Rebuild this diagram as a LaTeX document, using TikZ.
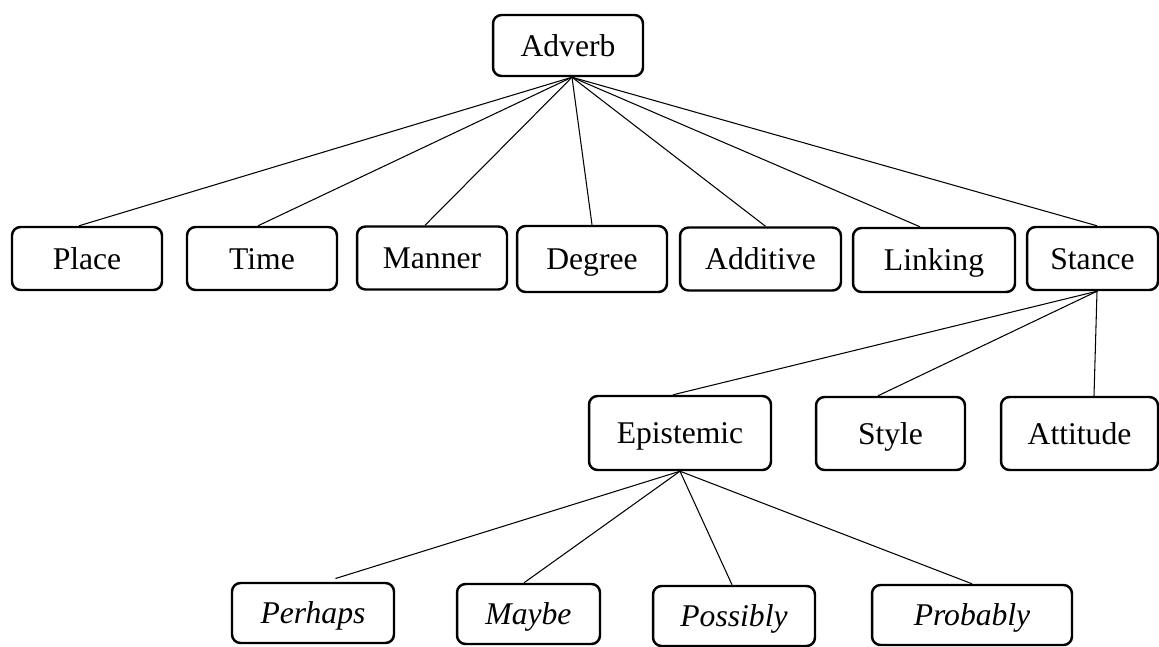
\documentclass[tikz,border=0pt]{standalone}
\usepackage{fontspec}
\setmainfont{Liberation Serif}
\usepackage{tikz}

\tikzset{
	cat/.style={draw, line width=1.4pt, rounded corners=0.17cm, align=center, inner sep=0pt, minimum height=1.26cm, text height=12pt, text depth=0pt, font=\fontsize{18}{20}\selectfont},
	link/.style={line width=0.6pt}
}

\begin{document}
\begin{tikzpicture}[x=0.02cm, y=-0.02cm]
			%%%%% START %%%%%
			\useasboundingbox (0, 0) rectangle (1159, 646);
			
			\node[cat, minimum width=3cm, minimum height=1.22cm] (adverb) at (568, 45.5) {Adverb};
			
			\node[cat, minimum width=3cm] (place) at (87, 258.5) {Place};
			\node[cat, minimum width=3cm] (time) at (262, 258.5) {Time};
			\node[cat, minimum width=3cm] (manner) at (432, 258) {Manner};
			\node[cat, minimum width=3cm, minimum height=1.32cm] (degree) at (592, 259) {Degree};
			\node[cat, minimum width=3.22cm] (additive) at (760.5, 259) {Additive};
			\node[cat, minimum width=3.24cm, minimum height=1.28cm] (linking) at (934, 260) {Linking};
			\node[cat, minimum width=2.62cm] (stance) at (1092.5, 258.5) {Stance};
			
			\node[cat, minimum width=3.64cm, minimum height=1.48cm] (epistemic) at (680, 433) {Epistemic};
			\node[cat, minimum width=2.98cm, minimum height=1.46cm] (style) at (890.5, 433.5) {Style};
			\node[cat, minimum width=3.14cm, minimum height=1.46cm] (attitude) at (1079.5, 433.5) {Attitude};
			
			\node[cat, minimum width=3.24cm, minimum height=1.2cm] (perhaps) at (313, 613) {\itshape Perhaps};
			\node[cat, minimum width=2.86cm, minimum height=1.2cm] (maybe) at (528.5, 614) {\itshape Maybe};
			\node[cat, minimum width=3.24cm, minimum height=1.2cm] (possibly) at (734, 616) {\itshape Possibly};
			\node[cat, minimum width=4cm, minimum height=1.2cm] (probably) at (972, 615) {\itshape Probably};
			
			% first level
			\coordinate (adv-s) at ([xshift=0.08cm]adverb.south);
			\draw[link] (adv-s) -- ([xshift=-0.16cm]place.north);
			\draw[link] (adv-s) -- ([xshift=-0.08cm]time.north);
			\draw[link] (adv-s) -- ([xshift=-0.14cm]manner.north);
			\draw[link] (adv-s) -- (degree.north);
			\draw[link] (adv-s) -- ([xshift=0.1cm]additive.north);
			\draw[link] (adv-s) -- ([xshift=-0.28cm]linking.north);
			\draw[link] (adv-s) -- ([xshift=0.09cm]stance.north);
			
			% stance
			\coordinate (stance-s) at ([xshift=0.09cm]stance.south);
			\draw[link] (stance-s) -- ([xshift=-0.14cm]epistemic.north);
			\draw[link] (stance-s) -- ([xshift=-0.25cm]style.north);
			\draw[link] (stance-s) -- ([xshift=0.29cm]attitude.north);
			
			% epistemic
			\draw[link, shorten >=0.22cm] (epistemic.south) -- ([xshift=0.24cm]perhaps.north);
			\draw[link] (epistemic.south) -- ([xshift=-0.09cm]maybe.north);
			\draw[link] (epistemic.south) -- ([xshift=-0.04cm]possibly.north);
			\draw[link] (epistemic.south) -- (probably.north);
			%%%%% END %%%%%
		\end{tikzpicture}
\end{document}
